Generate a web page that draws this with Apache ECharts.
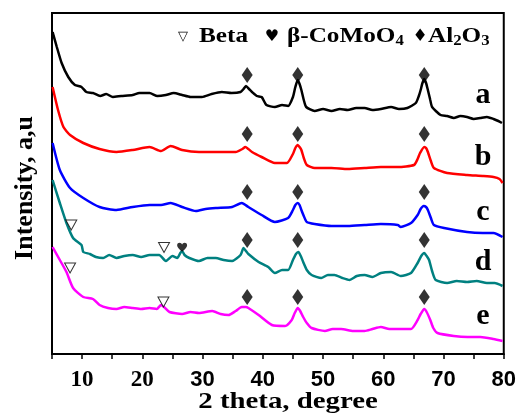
<!DOCTYPE html>
<html><head><meta charset="utf-8">
<script src="https://cdn.jsdelivr.net/npm/echarts@6/dist/echarts.min.js"></script>
<style>html,body{margin:0;padding:0;background:#fff}#c{width:519px;height:416px}</style>
</head><body><div id="c"></div>
<script>
// 2 theta (degree) and offset intensity (a.u.)
const curveA = [[5.1,322],[5.8,307],[6.6,291],[7.7,277],[8.8,269],[9.9,267],[10.7,262],[11.8,261],[13.0,258],[14.0,260],[15.1,257],[16.5,258],[18.4,259],[19.5,261],[21.2,261],[22.5,258],[23.9,259],[25.2,261],[26.6,259],[28.0,257],[29.9,257],[31.5,260],[33.2,262],[34.8,261],[36.3,262],[36.8,265],[37.2,268],[37.7,265],[38.2,262],[39.0,258],[39.8,257],[40.6,249],[42.0,247],[43.2,249],[44.2,248],[45.0,257],[45.4,267],[45.8,274],[46.1,270],[46.4,264],[46.8,254],[47.2,247],[48.6,243],[50.0,245],[51.4,243],[52.8,245],[54.1,244],[55.5,246],[56.9,246],[58.2,244],[59.6,245],[61.3,247],[62.6,245],[64.0,246],[65.4,251],[65.9,258],[66.2,264],[66.5,271],[66.8,275],[67.1,271],[67.4,264],[67.8,254],[68.1,247],[69.5,239],[70.6,238],[71.7,236],[72.8,238],[73.9,237],[75.0,235],[76.1,236],[77.2,237],[78.3,235],[79.1,233],[79.7,231]];
const curveB = [[5.1,267],[6.0,244],[6.9,227],[8.0,219],[10.2,211],[12.9,205],[15.7,202],[18.4,204],[21.2,207],[23.1,203],[24.7,208],[26.6,204],[29.4,202],[32.2,202],[35.5,202],[36.6,205],[37.1,207],[37.6,205],[38.2,202],[39.8,197],[42.0,191],[44.0,191],[45.0,200],[45.4,206],[45.8,209],[46.1,207],[46.4,204],[46.8,196],[47.3,189],[48.6,186],[51.4,186],[54.1,185],[56.9,186],[59.6,187],[62.4,187],[65.1,189],[65.7,195],[66.1,201],[66.8,207],[67.1,206],[67.4,202],[67.9,193],[68.4,186],[70.6,181],[73.9,179],[76.5,178],[78.3,177],[79.3,175],[79.8,171]];
const curveC = [[5.1,211],[6.3,184],[8.0,166],[10.2,156],[12.9,147],[15.7,144],[18.4,147],[21.2,149],[23.1,149],[24.7,151],[26.6,147],[28.9,143],[30.5,145],[32.2,146],[34.9,147],[36.5,151],[37.6,147],[39.8,139],[42.0,132],[44.2,136],[45.0,144],[45.4,149],[45.8,151],[46.1,149],[46.4,144],[46.8,138],[47.3,132],[48.6,130],[51.4,128],[54.1,128],[56.9,129],[59.6,130],[62.4,129],[62.9,127],[64.6,131],[65.7,139],[66.2,145],[66.7,148],[67.1,147],[67.4,144],[67.9,136],[68.4,129],[70.1,126],[73.9,122],[76.5,121],[78.3,121],[79.8,117]];
const curveD = [[5.1,174],[6.3,151],[7.4,131],[8.5,116],[9.9,109],[10.2,102],[11.3,100],[12.3,97],[13.5,96],[14.5,99],[15.7,96],[17.0,98],[18.4,99],[19.8,97],[21.2,99],[22.8,99],[23.9,93],[25.0,98],[25.8,96],[26.3,101],[26.6,103],[27.0,99],[27.8,96],[29.4,93],[30.8,96],[32.2,96],[33.5,94],[34.9,93],[36.3,99],[36.8,106],[37.2,103],[37.6,100],[39.3,92],[40.9,87],[42.0,81],[43.2,84],[44.2,84],[45.0,94],[45.5,100],[45.9,102],[46.3,98],[46.7,92],[47.3,84],[48.1,79],[49.7,76],[50.8,79],[51.9,79],[53.2,76],[54.4,74],[55.6,78],[56.9,79],[58.2,77],[59.6,81],[61.3,82],[62.9,78],[64.6,81],[65.7,91],[66.3,98],[66.8,101],[67.2,98],[67.6,94],[68.1,83],[68.7,74],[70.6,71],[72.2,73],[73.9,72],[75.5,73],[77.2,71],[78.5,71],[79.8,68]];
const curveE = [[5.1,107],[6.3,94],[7.4,82],[8.5,66],[10.2,57],[11.8,55],[12.9,49],[14.3,46],[15.7,45],[17.0,47],[18.4,46],[19.8,45],[21.2,46],[22.4,45],[23.1,49],[23.6,47],[24.5,42],[26.6,40],[28.0,42],[29.4,41],[31.6,43],[33.0,40],[34.3,39],[35.5,43],[36.5,47],[37.2,47],[37.6,46],[39.3,39],[41.5,29],[43.7,28],[44.8,34],[45.3,41],[45.8,46],[46.2,43],[46.7,37],[47.3,31],[48.1,26],[50.3,23],[51.6,25],[53.0,25],[55.0,23],[56.9,23],[58.2,25],[59.6,27],[61.0,25],[62.4,25],[64.6,25],[65.7,34],[66.2,40],[66.8,45],[67.2,42],[67.8,34],[68.3,26],[69.0,21],[71.7,18],[74.0,17],[76.1,17],[78.3,15],[79.8,13]];

const seriesNames = ['a', 'b', 'c', 'd', 'e'];
const seriesData = [curveA, curveB, curveC, curveD, curveE];
const seriesColors = ['#000000', '#ff0000', '#0000ff', '#008080', '#ff00ff'];

// Al2O3 peak markers (diamonds), Beta markers (triangles), beta-CoMoO4 marker (heart)
const diamondX = [37.4, 45.8, 66.8];
const diamondY = [279, 220, 162, 114, 57];
const betaMarks = [[8.2, 129], [23.6, 106.5], [8.0, 86], [23.5, 52]];
const comooMarks = [[26.6, 106.7]];

const tickValues = [10, 20, 30, 40, 50, 60, 70, 80];

const SERIF = "'Liberation Serif','Times New Roman',serif";
const SANS = "'Liberation Sans',Arial,sans-serif";
const SYM = "'DejaVu Sans',sans-serif";

const diamonds = [];
diamondY.forEach(y => diamondX.forEach(x => diamonds.push([x, y])));

const heartPath = 'path://M50,90 C20,65 0,45 0,25 C0,8 12,0 25,0 C37,0 45,8 50,18 C55,8 63,0 75,0 C88,0 100,8 100,25 C100,45 80,65 50,90 Z';

const series = seriesData.map((d, i) => ({
  name: seriesNames[i], type: 'line', data: d, showSymbol: false, smooth: 0.2,
  lineStyle: { color: seriesColors[i], width: 2.5 }, itemStyle: { color: seriesColors[i] },
  silent: true, z: 3
}));
series.push({ type: 'scatter', data: diamonds, symbol: 'diamond', symbolSize: [11, 16],
  itemStyle: { color: '#000' }, silent: true, z: 5 });
series.push({ type: 'scatter', data: betaMarks, symbol: 'triangle', symbolRotate: 180, symbolSize: [11, 10],
  itemStyle: { color: '#fff', borderColor: '#000', borderWidth: 1 }, silent: true, z: 5 });
series.push({ type: 'scatter', data: comooMarks, symbol: heartPath, symbolSize: [10, 9],
  itemStyle: { color: '#000' }, silent: true, z: 5 });

const chart = echarts.init(document.getElementById('c'), null, { renderer: 'canvas' });
const labelYs = [110, 172, 227, 277, 331];
const graphic = seriesNames.map((n, i) => ({
  type: 'text', style: { text: n, x: 483, y: labelYs[i], align: 'center', verticalAlign: 'bottom',
  font: 'bold 30px ' + SERIF, fill: '#000' }, z: 10 }));

const legRich = {
  t: { fontFamily: SERIF, fontWeight: 'bold', fontSize: 21, lineHeight: 22, fill: '#000' },
  sub: { fontFamily: SERIF, fontWeight: 'bold', fontSize: 14, lineHeight: 8, verticalAlign: 'bottom', fill: '#000' }
};
function legText(txt, left) {
  return { type: 'text', x: left, y: 37, scaleX: 1.2, style: { text: txt, x: 0, y: 0, align: 'left', verticalAlign: 'middle', rich: legRich }, z: 10 };
}
function legSym(ch, cx, size) {
  return { type: 'text', style: { text: ch, x: cx, y: 37, align: 'center', verticalAlign: 'middle', font: size + 'px ' + SYM, fill: '#000' }, z: 10 };
}
graphic.push(legSym('▽', 183, 13));
graphic.push(legText('{t|Beta}', 199));
graphic.push(legSym('♥', 272, 16));
graphic.push(legText('{t|β-CoMoO}{sub|4}', 287));
graphic.push(legSym('♦', 420, 17));
graphic.push(legText('{t|Al}{sub|2}{t|O}{sub|3}', 428));

graphic.push({ type: 'text', x: 288, y: 402, scaleX: 1.2, style: { text: '2 theta, degree', x: 0, y: 0, align: 'center', verticalAlign: 'middle',
  font: 'bold 24px ' + SERIF, fill: '#000' }, z: 10 });
graphic.push({ type: 'text', rotation: Math.PI / 2, x: 25, y: 188, style: { text: 'Intensity, a,u', x: 0, y: 0,
  align: 'center', verticalAlign: 'middle', font: 'bold 26px ' + SERIF, fill: '#000' }, z: 10 });

chart.setOption({
  animation: false,
  backgroundColor: '#fff',
  grid: { left: 52, right: 12, top: 13, bottom: 62, show: true, borderColor: '#000', borderWidth: 2, backgroundColor: 'transparent' },
  xAxis: {
    type: 'value', min: 5, max: 80, interval: 5,
    axisLine: { show: true, lineStyle: { color: '#000', width: 2 } },
    axisTick: { show: true, inside: false, length: 5, lineStyle: { color: '#000', width: 1.5 } },
    splitLine: { show: false },
    axisLabel: {
      margin: 15,
      formatter: v => {
        if (v === 10 || v === 20) return '{s|' + v + '}';
        if (tickValues.indexOf(v) >= 0) return '{n|' + v + '}';
        return '';
      },
      rich: {
        s: { fontFamily: SERIF, fontWeight: 'bold', fontSize: 23, color: '#000' },
        n: { fontFamily: SANS, fontWeight: 'bold', fontSize: 22, color: '#000' }
      }
    }
  },
  yAxis: {
    type: 'value', min: 0, max: 341,
    axisLine: { show: true, lineStyle: { color: '#000', width: 2 } },
    axisTick: { show: false }, axisLabel: { show: false }, splitLine: { show: false }
  },
  series: series,
  graphic: graphic
});
</script></body></html>
